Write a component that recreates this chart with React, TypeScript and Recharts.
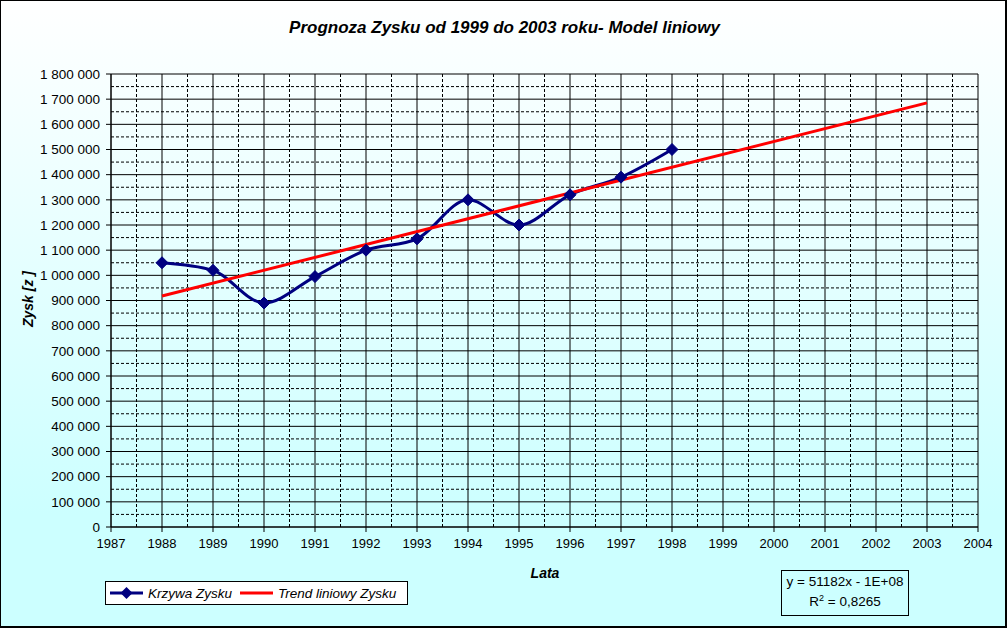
import React from "react";
import {
  CartesianGrid,
  Line,
  LineChart,
  ReferenceLine,
  XAxis,
  YAxis,
} from "recharts";

const years = [1988, 1989, 1990, 1991, 1992, 1993, 1994, 1995, 1996, 1997, 1998];
const profit = [1050000, 1020000, 890000, 995000, 1100000, 1145000, 1300000, 1200000, 1320000, 1390000, 1500000];

const trendYears = [1988, 2003];
const trendValues = [917700, 1685400];

const xTicks = [1987, 1988, 1989, 1990, 1991, 1992, 1993, 1994, 1995, 1996, 1997, 1998, 1999, 2000, 2001, 2002, 2003, 2004];
const yTicks = [0, 100000, 200000, 300000, 400000, 500000, 600000, 700000, 800000, 900000, 1000000, 1100000, 1200000, 1300000, 1400000, 1500000, 1600000, 1700000, 1800000];
const xMinor = xTicks.slice(0, -1).map((y) => y + 0.5);
const yMinor = yTicks.slice(0, -1).map((v) => v + 50000);

const profitData = years.map((year, i) => ({ year, value: profit[i] }));
const trendData = trendYears.map((year, i) => ({ year, value: trendValues[i] }));

const FONT = '"Liberation Sans", Arial, Helvetica, sans-serif';
const NAVY = "#000080";

function formatThousands(v: number) {
  return v.toString().replace(/\B(?=(\d{3})+(?!\d))/g, " ");
}

const Diamond = (props: any) => {
  const { cx, cy } = props;
  if (cx == null || cy == null) return null;
  const r = 6;
  return (
    <polygon
      points={`${cx},${cy - r} ${cx + r},${cy} ${cx},${cy + r} ${cx - r},${cy}`}
      fill={NAVY}
      stroke={NAVY}
    />
  );
};

export default function App() {
  return (
    <div
      style={{
        position: "absolute",
        left: 0,
        top: 0,
        width: 1007,
        height: 628,
        boxSizing: "border-box",
        border: "1px solid #000",
        borderRightWidth: 2,
        borderBottomWidth: 2,
        background: "linear-gradient(to bottom, #ffffff 0%, #ccffff 82%, #ccffff 100%)",
        fontFamily: FONT,
        overflow: "hidden",
      }}
    >
      <div
        style={{
          position: "absolute",
          left: 0,
          width: 1007,
          top: 17,
          textAlign: "center",
          fontSize: 17,
          fontWeight: "bold",
          fontStyle: "italic",
        }}
      >
        Prognoza Zysku od 1999 do 2003 roku- Model liniowy
      </div>

      <div style={{ position: "absolute", left: -1, top: -1 }}>
        <LineChart
          width={1007}
          height={628}
          margin={{ top: 74, right: 29, left: 11, bottom: 71 }}
        >
          <CartesianGrid stroke="#000" strokeWidth={1} fill="none" />
          {xMinor.map((x) => (
            <ReferenceLine key={"x" + x} x={x} stroke="#000" strokeDasharray="3 2" strokeWidth={1} />
          ))}
          {yMinor.map((y) => (
            <ReferenceLine key={"y" + y} y={y} stroke="#000" strokeDasharray="3 2" strokeWidth={1} />
          ))}
          <XAxis
            dataKey="year"
            type="number"
            domain={[1987, 2004]}
            ticks={xTicks}
            interval={0}
            height={30}
            tickSize={5}
            tickMargin={7}
            stroke="#000"
            tick={{ fill: "#000", fontSize: 13, fontFamily: FONT }}
          />
          <YAxis
            type="number"
            domain={[0, 1800000]}
            ticks={yTicks}
            interval={0}
            width={100}
            tickSize={5}
            tickMargin={6}
            stroke="#000"
            tickFormatter={formatThousands}
            tick={{ fill: "#000", fontSize: 13.5, fontFamily: FONT }}
          />
          <Line
            data={profitData}
            dataKey="value"
            type="monotone"
            stroke={NAVY}
            strokeWidth={3}
            dot={<Diamond />}
            activeDot={false}
            isAnimationActive={false}
          />
          <Line
            data={trendData}
            dataKey="value"
            type="linear"
            stroke="#ff0000"
            strokeWidth={3}
            dot={false}
            activeDot={false}
            isAnimationActive={false}
          />
        </LineChart>
      </div>

      <div
        style={{
          position: "absolute",
          left: 494,
          width: 100,
          top: 564,
          textAlign: "center",
          fontSize: 14,
          fontWeight: "bold",
          fontStyle: "italic",
        }}
      >
        Lata
      </div>

      <div
        style={{
          position: "absolute",
          left: 27,
          top: 298,
          transform: "translate(-50%, -50%) rotate(-90deg)",
          fontSize: 14,
          fontWeight: "bold",
          fontStyle: "italic",
          whiteSpace: "pre",
        }}
      >
        {"Zysk [z ]"}
      </div>

      <div
        style={{
          position: "absolute",
          left: 104,
          top: 580,
          width: 303,
          height: 24,
          boxSizing: "border-box",
          border: "1px solid #000",
          background: "#fff",
          display: "flex",
          alignItems: "center",
          fontSize: 13.5,
          fontStyle: "italic",
        }}
      >
        <svg width={36} height={12} style={{ marginLeft: 4 }}>
          <line x1={0} y1={6} x2={33} y2={6} stroke={NAVY} strokeWidth={3} />
          <polygon points="16.5,0 22.5,6 16.5,12 10.5,6" fill={NAVY} />
        </svg>
        <span style={{ marginLeft: 2 }}>Krzywa Zysku</span>
        <svg width={36} height={12} style={{ marginLeft: 8 }}>
          <line x1={0} y1={6} x2={33} y2={6} stroke="#ff0000" strokeWidth={3} />
        </svg>
        <span style={{ marginLeft: 2 }}>Trend liniowy Zysku</span>
      </div>

      <div
        style={{
          position: "absolute",
          left: 780,
          top: 569,
          width: 128,
          height: 46,
          boxSizing: "border-box",
          border: "1px solid #000",
          fontSize: 13.5,
          textAlign: "center",
          lineHeight: "20px",
          paddingTop: 1,
          whiteSpace: "nowrap",
        }}
      >
        <div>y = 51182x - 1E+08</div>
        <div>
          R<sup style={{ fontSize: 9, verticalAlign: "super", lineHeight: 0 }}>2</sup> = 0,8265
        </div>
      </div>
    </div>
  );
}
